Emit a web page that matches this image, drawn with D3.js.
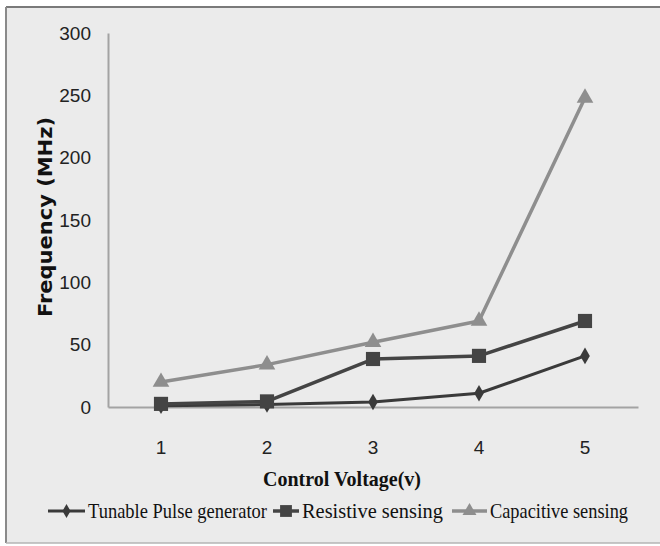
<!DOCTYPE html>
<html>
<head>
<meta charset="utf-8">
<script src="https://cdn.jsdelivr.net/npm/d3@7/dist/d3.min.js"></script>
<style>
  body { margin: 0; background: #fff; }
  svg { display: block; }
</style>
</head>
<body>
<div class="chart"></div>
<script>
var voltages = ["1", "2", "3", "4", "5"];
var yTicks = [0, 50, 100, 150, 200, 250, 300];
var seriesNames = ["Tunable Pulse generator", "Resistive sensing", "Capacitive sensing"];
var tunable = [1, 2, 4, 11, 41];
var resistive = [2.5, 4.5, 38.5, 41, 69];
var capacitive = [20, 34, 52, 69, 248];

var width = 660,
    height = 546;

var plotLeft = 108, plotRight = 638, plotTop = 33, plotBottom = 407;

var seriesData = [
  { name: seriesNames[0], values: tunable, color: "#3a3a3a", symbol: d3.symbolDiamond, size: 80, width: 3 },
  { name: seriesNames[1], values: resistive, color: "#444444", symbol: d3.symbolSquare, size: 200, width: 3.5 },
  { name: seriesNames[2], values: capacitive, color: "#8e8e8e", symbol: d3.symbolTriangle, size: 120, width: 3.5 }
];

var svg = d3.select(".chart").append("svg")
    .attr("width", width)
    .attr("height", height);

// chart area background and frame
svg.append("rect")
    .attr("x", 6).attr("y", 7)
    .attr("width", width - 6).attr("height", 536)
    .style("fill", "#ebebeb");
svg.append("line")
    .attr("x1", 6).attr("x2", width).attr("y1", 7).attr("y2", 7)
    .style("stroke", "#7a7a7a").style("stroke-width", 2);
svg.append("line")
    .attr("x1", 6).attr("x2", 6).attr("y1", 7).attr("y2", 543)
    .style("stroke", "#8a8a8a").style("stroke-width", 2);
svg.append("line")
    .attr("x1", 6).attr("x2", width).attr("y1", 543).attr("y2", 543)
    .style("stroke", "#b5b5b5").style("stroke-width", 1.5);

var x = d3.scaleBand()
    .domain(voltages)
    .range([plotLeft, plotRight]);

var y = d3.scaleLinear()
    .domain([0, 300])
    .range([plotBottom, plotTop]);

// axes
var yAxis = svg.append("g")
    .attr("transform", "translate(" + plotLeft + ",0)")
    .call(d3.axisLeft(y).tickValues(yTicks).tickSize(0).tickPadding(17));
var xAxis = svg.append("g")
    .attr("transform", "translate(0," + plotBottom + ")")
    .call(d3.axisBottom(x).tickSize(0).tickPadding(34));

[yAxis, xAxis].forEach(function(a){
  a.select(".domain").style("stroke", "#a3a3a3").style("stroke-width", 2);
  a.selectAll("text")
    .style("font-family", "'Liberation Sans', Arial, sans-serif")
    .style("font-size", "19px")
    .style("fill", "#222");
});

// series lines
var line = d3.line()
    .x(function(d, i){ return x(voltages[i]) + x.bandwidth() / 2; })
    .y(function(d){ return y(d); });

seriesData.forEach(function(s){
  svg.append("path")
      .datum(s.values)
      .attr("d", line)
      .style("fill", "none")
      .style("stroke", s.color)
      .style("stroke-width", s.width)
      .style("stroke-linejoin", "round");
});

seriesData.forEach(function(s){
  svg.selectAll(null)
    .data(s.values)
    .enter()
    .append("path")
      .attr("d", d3.symbol().type(s.symbol).size(s.size))
      .attr("transform", function(d, i){
        return "translate(" + (x(voltages[i]) + x.bandwidth() / 2) + "," + y(d) + ")";
      })
      .style("fill", s.color);
});

// axis titles
svg.append("text")
    .attr("transform", "translate(52," + 217 + ") rotate(-90)")
    .attr("text-anchor", "middle")
    .attr("textLength", 200)
    .attr("lengthAdjust", "spacingAndGlyphs")
    .style("font-family", "'DejaVu Sans', Verdana, sans-serif")
    .style("font-weight", "bold")
    .style("font-size", "20px")
    .style("fill", "#111")
    .text("Frequency (MHz)");

svg.append("text")
    .attr("x", 342)
    .attr("y", 486)
    .attr("text-anchor", "middle")
    .attr("textLength", 158)
    .attr("lengthAdjust", "spacingAndGlyphs")
    .style("font-family", "'Liberation Serif', 'Times New Roman', serif")
    .style("font-weight", "bold")
    .style("font-size", "21px")
    .style("fill", "#111")
    .text("Control Voltage(v)");

// legend
var legendPos = [
  { lx: 48, tx: 88, tw: 179 },
  { lx: 273, tx: 302, tw: 141 },
  { lx: 452, tx: 490, tw: 138 }
];

seriesData.forEach(function(s, i){
  var p = legendPos[i];
  var g = svg.append("g").attr("transform", "translate(0,511)");
  g.append("line")
      .attr("x1", p.lx).attr("x2", p.tx - 3)
      .attr("y1", 0).attr("y2", 0)
      .style("stroke", s.color)
      .style("stroke-width", s.width);
  g.append("path")
      .attr("d", d3.symbol().type(s.symbol).size(s.size * 0.7))
      .attr("transform", "translate(" + ((p.lx + p.tx - 3) / 2) + ",0)")
      .style("fill", s.color);
  g.append("text")
      .attr("x", p.tx)
      .attr("y", 7)
      .attr("textLength", p.tw)
      .attr("lengthAdjust", "spacingAndGlyphs")
      .style("font-family", "'Liberation Serif', 'Times New Roman', serif")
      .style("font-size", "21px")
      .style("fill", "#111")
      .text(s.name);
});
</script>
</body>
</html>
